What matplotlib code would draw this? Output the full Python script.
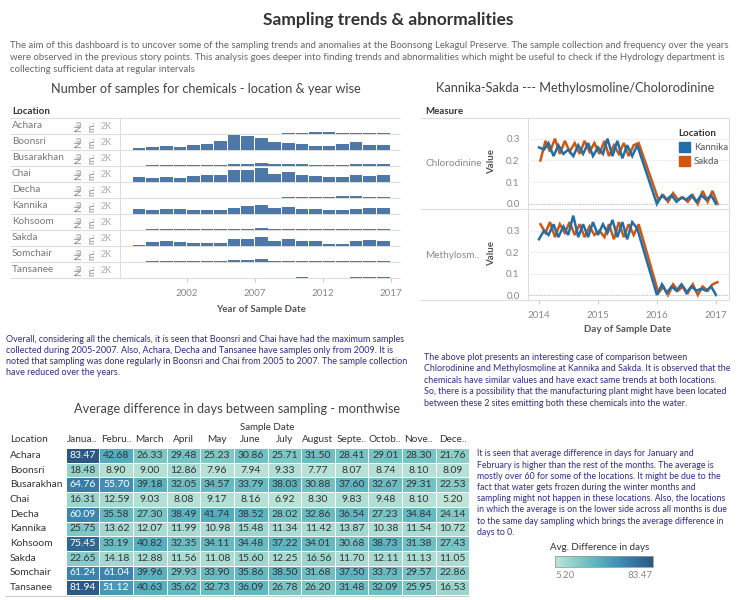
import matplotlib.pyplot as plt
import matplotlib.dates as mdates
import numpy as np
import pandas as pd
from matplotlib.colors import LinearSegmentedColormap, Normalize
from matplotlib.cm import ScalarMappable

plt.rcParams['font.family'] = ['Lato', 'DejaVu Sans']

# ---------------- data ----------------
locations = ["Achara", "Boonsri", "Busarakhan", "Chai", "Decha",
             "Kannika", "Kohsoom", "Sakda", "Somchair", "Tansanee"]
years = list(range(1998, 2017))

# number of samples per year (0 = no samples that year)
achara_counts = [0] * 11 + [250, 250, 500, 500, 250, 250, 250, 250]
boonsri_counts = [575, 750, 1000, 675, 1325, 1500, 2175, 3575, 3425, 3000,
                  1925, 1675, 1500, 1075, 925, 1500, 1925, 1325, 1325]
busarakhan_counts = [60, 250, 250, 250, 250, 250, 250, 450, 450, 700,
                     400, 400, 400, 250, 250, 250, 450, 450, 450]
chai_counts = [1325, 1000, 1325, 1000, 1575, 1825, 1825, 2925, 2925, 3500,
               2000, 2425, 1825, 1575, 1250, 1250, 1675, 1500, 1825]
decha_counts = [0] * 11 + [250, 250, 250, 250, 500, 500, 250, 250]
kannika_counts = [1325, 1075, 1325, 1175, 925, 925, 925, 1575, 1925, 2250,
                  1425, 1675, 1250, 1250, 925, 925, 1325, 1500, 1500]
kohsoom_counts = [100, 250, 250, 250, 250, 250, 250, 350, 350, 600,
                  200, 200, 350, 350, 350, 350, 350, 200, 200]
sakda_counts = [325, 1000, 1325, 1075, 825, 825, 825, 1675, 1675, 2175,
                1325, 1675, 1250, 1250, 575, 575, 1175, 1500, 1250]
somchair_counts = [80, 250, 250, 250, 250, 250, 250, 400, 400, 650,
                   330, 330, 330, 170, 170, 170, 330, 330, 330]
tansanee_counts = [0] * 11 + [120, 350, 120, 120, 120, 350, 350, 350]
sample_counts = [achara_counts, boonsri_counts, busarakhan_counts, chai_counts,
                 decha_counts, kannika_counts, kohsoom_counts, sakda_counts,
                 somchair_counts, tansanee_counts]

# Kannika / Sakda monthly readings (high period, gap, then low period)
kannika_dates = (list(pd.date_range("2014-01-01", "2015-09-01", freq="MS"))
                 + list(pd.date_range("2016-01-01", "2017-01-01", freq="MS")))
sakda_dates = [d + pd.Timedelta(days=9) for d in kannika_dates]

kannika_chl = [0.26, 0.25, 0.28, 0.22, 0.27, 0.23, 0.25, 0.22, 0.27, 0.23, 0.28,
               0.22, 0.26, 0.23, 0.30, 0.22, 0.29, 0.21, 0.27, 0.22, 0.27,
               0.00, 0.04, 0.02, 0.04, 0.01, 0.03, 0.02, 0.04, 0.01, 0.04, 0.02, 0.04, 0.00]
sakda_chl = [0.20, 0.29, 0.24, 0.30, 0.23, 0.29, 0.24, 0.28, 0.23, 0.29, 0.24,
             0.28, 0.23, 0.29, 0.22, 0.27, 0.23, 0.28, 0.22, 0.27, 0.28,
             0.02, 0.04, 0.01, 0.05, 0.02, 0.03, 0.01, 0.04, 0.00, 0.06, 0.01, 0.06, 0.00]
kannika_met = [0.26, 0.30, 0.28, 0.33, 0.27, 0.32, 0.28, 0.37, 0.27, 0.33, 0.27,
               0.34, 0.28, 0.33, 0.29, 0.35, 0.27, 0.34, 0.26, 0.34, 0.31,
               0.00, 0.05, 0.01, 0.04, 0.02, 0.05, 0.01, 0.04, 0.02, 0.03, 0.02, 0.04, 0.00]
sakda_met = [0.33, 0.29, 0.34, 0.27, 0.33, 0.29, 0.34, 0.28, 0.33, 0.27, 0.32,
             0.28, 0.30, 0.27, 0.33, 0.26, 0.34, 0.27, 0.33, 0.28, 0.33,
             0.01, 0.04, 0.00, 0.05, 0.02, 0.04, 0.01, 0.05, 0.00, 0.04, 0.02, 0.05, 0.06]

months = ["Janua..", "Febru..", "March", "April", "May", "June", "July",
          "August", "Septe..", "Octob..", "Nove..", "Dece.."]
avg_diff = [
    [83.47, 42.68, 26.33, 29.48, 25.23, 30.86, 25.71, 31.50, 28.41, 29.01, 28.30, 21.76],
    [18.48, 8.90, 9.00, 12.86, 7.96, 7.94, 9.33, 7.77, 8.07, 8.74, 8.10, 8.09],
    [64.76, 55.70, 39.18, 32.05, 34.57, 33.79, 38.03, 30.88, 37.60, 32.67, 29.31, 22.53],
    [16.31, 12.59, 9.03, 8.08, 9.17, 8.16, 6.92, 8.30, 9.83, 9.48, 8.10, 5.20],
    [60.09, 35.58, 27.30, 38.49, 41.74, 38.52, 28.02, 32.86, 36.54, 27.23, 34.84, 24.14],
    [25.75, 13.62, 12.07, 11.99, 10.98, 15.48, 11.34, 11.42, 13.87, 10.38, 11.54, 10.72],
    [75.45, 33.19, 40.82, 32.35, 34.11, 34.48, 37.22, 34.01, 30.68, 38.73, 31.38, 27.43],
    [22.65, 14.18, 12.88, 11.56, 11.08, 15.60, 12.25, 16.56, 11.70, 12.11, 11.13, 11.05],
    [61.24, 61.04, 39.96, 29.93, 33.90, 35.86, 38.50, 31.68, 37.50, 33.73, 29.57, 22.86],
    [81.94, 51.12, 40.63, 35.62, 32.73, 36.09, 26.78, 26.20, 31.48, 32.09, 25.95, 16.53],
]

# ---------------- layout helpers ----------------
W, H = 750, 600
TXT = "#333333"
GREY = "#888888"
NOTE = "#2e2c8c"
LINE = "#dddddd"
BLUE = "#1f6fa8"
ORANGE = "#d2560f"


def box(x0, y0, x1, y1):
    return [x0 / W, 1 - y1 / H, (x1 - x0) / W, (y1 - y0) / H]


fig = plt.figure(figsize=(7.5, 6), dpi=100)
bg = fig.add_axes([0, 0, 1, 1])
bg.set_xlim(0, W)
bg.set_ylim(H, 0)
bg.axis("off")

# header
bg.text(388, 20, "Sampling trends & abnormalities", ha="center", va="center",
        fontsize=12.5, fontweight="bold", color=TXT)
desc = ["The aim of this dashboard is to uncover some of the sampling trends and anomalies at the Boonsong Lekagul Preserve. The sample collection and frequency over the years",
        "were observed in the previous story points. This analysis goes deeper into finding trends and abnormalities which might be useful to check if the Hydrology department is",
        "collecting sufficient data at regular intervals"]
for i, s in enumerate(desc):
    bg.text(10, 45 + i * 12.5, s, ha="left", va="center", fontsize=6.95, color="#666666")

# ---------------- bar chart: samples per location & year ----------------
bg.text(206, 89, "Number of samples for chemicals - location & year wise", ha="center",
        va="center", fontsize=9.2, color="#444444")
bg.text(12, 111, "Location", ha="left", va="center", fontsize=7, fontweight="bold", color=TXT)

row_top, row_h = 118, 16
for i, (loc, counts) in enumerate(zip(locations, sample_counts)):
    y0 = row_top + i * row_h
    yc = y0 + row_h / 2
    bg.text(12, yc, loc, ha="left", va="center", fontsize=7.2, color="#777777")
    bg.text(79, yc, "Nu", rotation=90, ha="center", va="center", fontsize=6.5, color=GREY)
    bg.text(92, yc, "m..", rotation=90, ha="center", va="center", fontsize=6.5, color=GREY)
    ax = fig.add_axes(box(120, y0, 400, y0 + row_h))
    ax.bar(years, counts, width=0.93, align="edge", color="#4e79a7", linewidth=0)
    ax.set_xlim(1997.05, 2017.7)
    ax.set_ylim(0, 3900)
    ax.set_yticks([2000])
    ax.set_yticklabels(["2K"], fontsize=6.5, color="#aaaaaa")
    ax.tick_params(axis="y", length=0, pad=6)
    ax.set_xticks([2002, 2007, 2012, 2017])
    for sp in ax.spines.values():
        sp.set_visible(False)
    ax.patch.set_alpha(0)
    if i == len(locations) - 1:
        ax.tick_params(axis="x", length=3, color="#cccccc", labelsize=7, labelcolor=GREY, pad=5)
    else:
        ax.tick_params(axis="x", length=0, labelbottom=False)

bg.hlines([row_top + k * row_h for k in range(len(locations) + 1)], 10, 400, color=LINE, lw=0.8)
bg.vlines(120, row_top, row_top + row_h * len(locations), color=LINE, lw=0.8)
bg.text(261, 309, "Year of Sample Date", ha="center", va="center", fontsize=7,
        fontweight="bold", color="#555555")

# ---------------- line chart: Kannika vs Sakda ----------------
bg.text(575, 88, "Kannika-Sakda --- Methylosmoline/Cholorodinine", ha="center",
        va="center", fontsize=9.2, color="#444444")
bg.text(425, 111, "Measure", ha="left", va="center", fontsize=7, fontweight="bold", color=TXT)
bg.hlines([118, 209, 300], 420, 729, color=LINE, lw=0.8)
bg.vlines([528, 729], 118, 300, color=LINE, lw=0.8)
bg.text(425, 163, "Chlorodinine", ha="left", va="center", fontsize=7.2, color=GREY)
bg.text(425, 255, "Methylosm..", ha="left", va="center", fontsize=7.2, color=GREY)
bg.text(492, 162, "Value", rotation=90, ha="center", va="center", fontsize=7,
        fontweight="bold", color="#555555")
bg.text(492, 254, "Value", rotation=90, ha="center", va="center", fontsize=7,
        fontweight="bold", color="#555555")

panels = [((118, 209), (-0.023, 0.395), sakda_chl, kannika_chl),
          ((209, 300), (-0.023, 0.401), sakda_met, kannika_met)]
for j, ((y0, y1), ylim, s_vals, k_vals) in enumerate(panels):
    ax = fig.add_axes(box(528, y0, 729, y1))
    ax.plot(sakda_dates, s_vals, color=ORANGE, lw=1.8, solid_joinstyle="miter")
    ax.plot(kannika_dates, k_vals, color=BLUE, lw=1.8, solid_joinstyle="miter")
    ax.set_ylim(*ylim)
    ax.set_xlim(pd.Timestamp("2013-10-25"), pd.Timestamp("2017-03-22"))
    ax.set_yticks([0.0, 0.1, 0.2, 0.3])
    ax.set_yticklabels(["0.0", "0.1", "0.2", "0.3"])
    ax.tick_params(axis="y", length=0, labelsize=7, labelcolor=GREY, pad=6)
    ax.grid(axis="y", color="#f0f0f0", lw=0.8)
    ax.axhline(0, color="#bbbbbb", lw=0.7, ls=":")
    ax.xaxis.set_major_locator(mdates.YearLocator())
    ax.xaxis.set_major_formatter(mdates.DateFormatter("%Y"))
    for sp in ax.spines.values():
        sp.set_visible(False)
    ax.patch.set_alpha(0)
    if j == 1:
        ax.tick_params(axis="x", length=3, color="#cccccc", labelsize=7, labelcolor=GREY, pad=5)
    else:
        ax.tick_params(axis="x", length=0, labelbottom=False)

bg.text(628, 330, "Day of Sample Date", ha="center", va="center", fontsize=7,
        fontweight="bold", color="#555555")

# ---------------- notes ----------------
note1 = ["Overall, considering all the chemicals, it is seen that Boonsri and Chai have had the maximum samples",
         "collected during 2005-2007. Also, Achara, Decha and Tansanee have samples only from 2009. It is",
         "noted that sampling was done regularly in Boonsri and Chai from 2005 to 2007. The sample collection",
         "have reduced over the years."]
for i, s in enumerate(note1):
    bg.text(6, 339 + i * 11.2, s, ha="left", va="center", fontsize=6.5, color=NOTE)

note2 = ["The above plot presents an interesting case of comparison between",
         "Chlorodinine and Methylosmoline at Kannika and Sakda. It is observed that the",
         "chemicals have similar values and have exact same trends at both locations.",
         "So, there is a possibility that the manufacturing plant might have been located",
         "between these 2 sites emitting both these chemicals into the water."]
for i, s in enumerate(note2):
    bg.text(424, 357 + i * 11.6, s, ha="left", va="center", fontsize=6.4, color=NOTE)

note3 = ["It is seen that average difference in days for January and",
         "February is higher than the rest of the months. The average is",
         "mostly over 60 for some of the locations. It might be due to the",
         "fact that water gets frozen during the winter months and",
         "sampling might not happen in these locations. Also, the locations",
         "in which the average is on the lower side across all months is due",
         "to the same day sampling which brings the average difference in",
         "days to 0."]
for i, s in enumerate(note3):
    bg.text(477, 454 + i * 11.2, s, ha="left", va="center", fontsize=6.3, color=NOTE)

# ---------------- heatmap ----------------
bg.text(237, 409, "Average difference in days between sampling - monthwise", ha="center",
        va="center", fontsize=9.2, color="#444444")
bg.text(267, 428, "Sample Date", ha="center", va="center", fontsize=7, color=TXT)
bg.text(10, 439, "Location", ha="left", va="center", fontsize=7.2, color=TXT)

hx0, hx1, hy0, hy1 = 65.7, 469.3, 448, 595
cw = (hx1 - hx0) / len(months)
rh = (hy1 - hy0) / len(locations)
for k, m in enumerate(months):
    bg.text(hx0 + cw * (k + 0.5), 439, m, ha="center", va="center", fontsize=7.2, color=TXT)
for i, loc in enumerate(locations):
    bg.text(10, hy0 + rh * (i + 0.5), loc, ha="left", va="center", fontsize=7.4, color=TXT)
bg.hlines(hy1 + 0.5, 5, hx1, color="#cccccc", lw=0.8)

cmap = LinearSegmentedColormap.from_list(
    "blueteal", [(0.0, "#bfe5d9"), (0.25, "#80c9c6"), (0.45, "#56b0c0"),
                 (0.7, "#3b86b0"), (1.0, "#2b5784")])
vals = np.array(avg_diff)
norm = Normalize(vmin=vals.min(), vmax=vals.max())
axh = fig.add_axes(box(hx0, hy0, hx1, hy1))
axh.pcolormesh(vals, cmap=cmap, norm=norm, edgecolors="white", linewidth=0.4)
axh.set_xlim(0, len(months))
axh.set_ylim(len(locations), 0)
axh.axis("off")
for i in range(len(locations)):
    for k in range(len(months)):
        v = vals[i, k]
        axh.text(k + 0.5, i + 0.5, f"{v:.2f}", ha="center", va="center", fontsize=7.5,
                 color="white" if v > 50 else TXT)

# colour legend
bg.text(600, 548, "Avg. Difference in days", ha="center", va="center", fontsize=7, color=TXT)
cax = fig.add_axes(box(555, 556, 653, 567))
cb = fig.colorbar(ScalarMappable(norm=norm, cmap=cmap), cax=cax, orientation="horizontal")
cb.set_ticks([])
cb.outline.set_edgecolor("#999999")
cb.outline.set_linewidth(0.6)
bg.text(555, 576, f"{vals.min():.2f}", ha="left", va="center", fontsize=7, color=GREY)
bg.text(653, 576, f"{vals.max():.2f}", ha="right", va="center", fontsize=7, color=GREY)

# location legend for the line chart (on top)
top = fig.add_axes([0, 0, 1, 1])
top.set_xlim(0, W)
top.set_ylim(H, 0)
top.axis("off")
top.text(678, 133, "Location", ha="left", va="center", fontsize=7, fontweight="bold", color=TXT)
for name, col, yy in [("Kannika", BLUE, 147), ("Sakda", ORANGE, 161)]:
    top.add_patch(plt.Rectangle((679, yy - 5), 11, 10, color=col))
    top.text(694, yy, name, ha="left", va="center", fontsize=7, color="#555555")

fig.savefig("out.png", dpi=100)
